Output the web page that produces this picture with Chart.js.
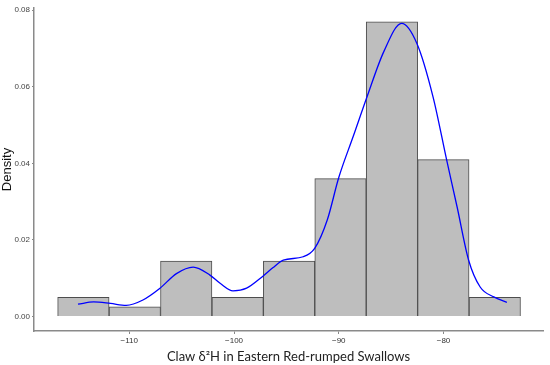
<!DOCTYPE html>
<html>
<head>
<meta charset="utf-8">
<script src="https://cdn.jsdelivr.net/npm/chart.js@4"></script>
<style>
  html, body { margin: 0; padding: 0; background: #fff; }
  #wrap { width: 550px; height: 365px; }
</style>
</head>
<body>
<div id="wrap"><canvas id="grafica"></canvas></div>
<script>
// histogram bins (centres) and densities
var binCentres = [-114.385, -109.475, -104.565, -99.655, -94.745, -89.835, -84.925, -80.015, -75.105];
var binDensity = [0.005, 0.0025, 0.0145, 0.005, 0.0145, 0.036, 0.077, 0.041, 0.005];

// density curve
var curveX = [-114.9, -113.4, -111.8, -110.3, -108.7, -107.1, -105.5, -103.9, -102.3, -101.3, -100.1, -98.8, -97.3, -96.3, -95.3, -93.4, -92.3, -91.1, -90.0, -88.6, -87.3, -85.7, -84.0, -82.55, -81.0, -79.7, -78.7, -77.6, -76.5, -75.2, -73.95];
var curveY = [0.0032, 0.0038, 0.0034, 0.0029, 0.0043, 0.0073, 0.0112, 0.0129, 0.0108, 0.0086, 0.0067, 0.0074, 0.0104, 0.0127, 0.0147, 0.0156, 0.0178, 0.0252, 0.0363, 0.0472, 0.0574, 0.0692, 0.0766, 0.0714, 0.0574, 0.0409, 0.0286, 0.0147, 0.0077, 0.0051, 0.0037];

var xTicks = [-110, -100, -90, -80];
var yTicks = [0, 0.02, 0.04, 0.06, 0.08];

var histPoints = binCentres.map(function (c, i) { return { x: c, y: binDensity[i] }; });
var curvePoints = curveX.map(function (c, i) { return { x: c, y: curveY[i] }; });

var ctx = document.getElementById("grafica").getContext("2d");
var myChart = new Chart(ctx, {
    type: "bar",
    data: {
        datasets: [{
            type: "line",
            data: curvePoints,
            borderColor: "#0000ff",
            borderWidth: 1.3,
            pointRadius: 0,
            cubicInterpolationMode: "monotone",
            fill: false
        }, {
            type: "bar",
            data: histPoints,
            backgroundColor: "#bebebe",
            borderColor: "#4d4d4d",
            borderWidth: 1,
            barPercentage: 1,
            categoryPercentage: 1
        }]
    },
    options: {
        responsive: true,
        maintainAspectRatio: false,
        animation: false,
        layout: { padding: { top: 8, right: 7, left: 0, bottom: 0 } },
        plugins: { legend: { display: false }, tooltip: { enabled: false } },
        scales: {
            x: {
                type: "linear",
                offset: false,
                min: -119.1,
                max: -70.5,
                afterBuildTicks: function (s) { s.ticks = xTicks.map(function (v) { return { value: v }; }); },
                afterFit: function (s) { s.height = 34; },
                grid: { display: true, drawOnChartArea: false, tickLength: 3, color: "#888", offset: false },
                border: { color: "#8a8a8a", width: 1.5 },
                ticks: { color: "#333", font: { family: "Liberation Sans", size: 8 }, padding: 2, maxRotation: 0,
                    callback: function (v) { return String(v).replace("-", "\u2212"); } },
                title: { display: true, text: "Claw δ²H in Eastern Red-rumped Swallows", color: "#222",
                    font: { family: "Lato", size: 13 }, padding: { top: 1, bottom: 0 } }
            },
            y: {
                min: -0.0038,
                max: 0.0806,
                afterBuildTicks: function (s) { s.ticks = yTicks.map(function (v) { return { value: v }; }); },
                afterFit: function (s) { s.width = 34; },
                grid: { display: true, drawOnChartArea: false, tickLength: 2, color: "#888" },
                border: { color: "#8a8a8a", width: 1.5 },
                ticks: { color: "#444", font: { family: "Liberation Sans", size: 8 }, padding: 2,
                    callback: function (v) { return v.toFixed(2); } },
                title: { display: true, text: "Density", color: "#111",
                    font: { family: "Liberation Sans", size: 13 }, padding: { top: 0, bottom: 1 } }
            }
        }
    }
});
</script>
</body>
</html>
